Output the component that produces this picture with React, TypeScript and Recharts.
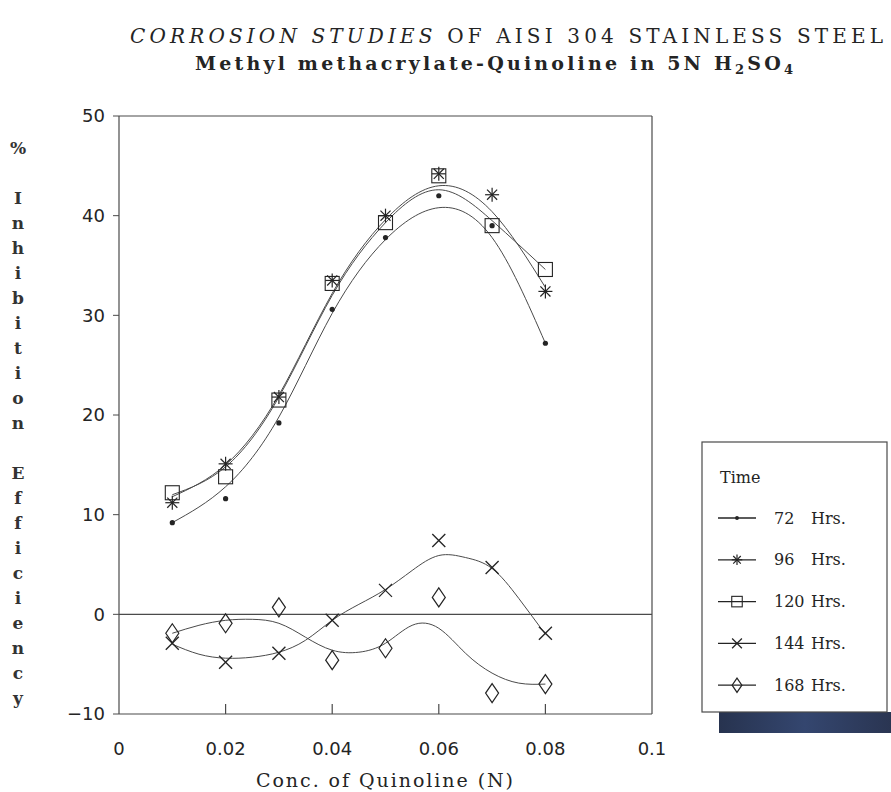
import React from 'react';
import {
  ComposedChart,
  Line,
  Scatter,
  XAxis,
  YAxis,
  ReferenceLine,
} from 'recharts';

// concentration of quinoline (N) at which the coupons were tested
const conc = [0.01, 0.02, 0.03, 0.04, 0.05, 0.06, 0.07, 0.08];

// measured % inhibition efficiency, one list per exposure time
const hrs72 = [9.2, 11.6, 19.2, 30.6, 37.8, 42.0, 39.0, 27.2];
const hrs96 = [11.2, 15.1, 21.8, 33.5, 40.0, 44.2, 42.1, 32.4];
const hrs120 = [12.2, 13.8, 21.5, 33.2, 39.3, 44.0, 39.0, 34.6];
const hrs144 = [-2.9, -4.8, -3.9, -0.6, 2.4, 7.4, 4.7, -1.9];
const hrs168 = [-1.9, -0.9, 0.7, -4.6, -3.4, 1.7, -7.9, -7.0];

// smoothed curves
const fit72 = [9.2, 12.8, 19.8, 30.2, 37.6, 40.8, 37.8, 27.2];
const fit96 = [11.8, 15.0, 22.0, 32.2, 39.6, 43.0, 40.4, 32.8];
const fit120 = [12.0, 14.8, 21.8, 32.0, 39.3, 42.6, 39.5, 34.6];

const fitConc = [
  0.01, 0.015, 0.02, 0.025, 0.03, 0.035, 0.04, 0.045,
  0.05, 0.055, 0.06, 0.065, 0.07, 0.075, 0.08,
];
const fit144 = [-3.0, -4.0, -4.4, -4.3, -3.8, -2.6, -0.6, 1.0, 2.5, 4.4, 5.9, 5.7, 4.6, 1.6, -2.0];
const fit168 = [-1.9, -1.1, -0.6, -0.5, -0.9, -2.3, -3.6, -3.8, -2.9, -1.1, -1.4, -3.9, -5.9, -6.9, -7.0];

const xTicks = [0, 0.02, 0.04, 0.06, 0.08, 0.1];
const yTicks = [-10, 0, 10, 20, 30, 40, 50];
const innerXTicks = [0.02, 0.04, 0.06, 0.08];

const legendNumbers = ['72', '96', '120', '144', '168'];
const markerKinds = ['dot', 'star', 'square', 'cross', 'diamond'];

const INK = '#242424';
const LINE = '#4a4a4a';

const toPoints = (xs: number[], ys: number[]) => xs.map((x, i) => ({ x, y: ys[i] }));

function Marker({ kind, cx, cy, s = 1 }: { kind: string; cx: number; cy: number; s?: number }) {
  if (cx == null || cy == null) return null;
  if (kind === 'dot') {
    return <circle cx={cx} cy={cy} r={2.6 * s} fill={INK} />;
  }
  if (kind === 'star') {
    const r = 7 * s;
    const d = r * 0.72;
    return (
      <g stroke={INK} strokeWidth={1.2}>
        <line x1={cx - r} y1={cy} x2={cx + r} y2={cy} />
        <line x1={cx} y1={cy - r} x2={cx} y2={cy + r} />
        <line x1={cx - d} y1={cy - d} x2={cx + d} y2={cy + d} />
        <line x1={cx - d} y1={cy + d} x2={cx + d} y2={cy - d} />
      </g>
    );
  }
  if (kind === 'square') {
    const h = 7 * s;
    return (
      <rect x={cx - h} y={cy - h} width={2 * h} height={2 * h} fill="none" stroke={INK} strokeWidth={1.1} />
    );
  }
  if (kind === 'cross') {
    const d = 6.5 * s;
    return (
      <g stroke={INK} strokeWidth={1.3}>
        <line x1={cx - d} y1={cy - d} x2={cx + d} y2={cy + d} />
        <line x1={cx - d} y1={cy + d} x2={cx + d} y2={cy - d} />
      </g>
    );
  }
  const w = 6.5 * s;
  const h = 9.5 * s;
  return (
    <polygon
      points={`${cx},${cy - h} ${cx + w},${cy} ${cx},${cy + h} ${cx - w},${cy}`}
      fill="none"
      stroke={INK}
      strokeWidth={1.2}
    />
  );
}

const markerShape = (kind: string) => (props: any) => <Marker kind={kind} cx={props.cx} cy={props.cy} />;

const formatX = (v: number) => (v === 0 ? '0' : v === 0.1 ? '0.1' : v.toFixed(2));
const formatY = (v: number) => (v < 0 ? `\u2212${Math.abs(v)}` : String(v));

// vertical y-axis title, one character per row
const yTitleRows = ['%', '', ...'Inhibition'.split(''), '', ...'Efficiency'.split('')];

export default function App() {
  const measured = [hrs72, hrs96, hrs120, hrs144, hrs168];

  return (
    <div style={{ position: 'absolute', left: 0, top: 0, width: 891, height: 792, background: '#fff' }}>
      <ComposedChart
        width={891}
        height={792}
        margin={{ top: 116, right: 239, bottom: 38, left: 69 }}
      >
        <XAxis
          type="number"
          dataKey="x"
          domain={[0, 0.1]}
          ticks={xTicks}
          tickFormatter={formatX}
          allowDataOverflow
          height={40}
          tickLine={false}
          tickSize={0}
          tickMargin={28}
          axisLine={{ stroke: LINE, strokeWidth: 1.2 }}
          tick={{ fill: INK, fontSize: 18, fontFamily: 'DejaVu Sans' }}
        />
        <YAxis
          type="number"
          dataKey="y"
          domain={[-10, 50]}
          ticks={yTicks}
          tickFormatter={formatY}
          allowDataOverflow
          width={50}
          tickSize={6}
          tickMargin={8}
          tickLine={{ stroke: LINE }}
          axisLine={{ stroke: LINE, strokeWidth: 1.2 }}
          tick={{ fill: INK, fontSize: 18, fontFamily: 'DejaVu Sans' }}
        />
        {/* frame top and right */}
        <ReferenceLine y={50} stroke={LINE} strokeWidth={1.2} />
        <ReferenceLine x={0.1} stroke={LINE} strokeWidth={1.2} />
        <ReferenceLine y={0} stroke={LINE} strokeWidth={1.2} />
        {innerXTicks.map((t) => (
          <ReferenceLine
            key={t}
            segment={[{ x: t, y: -10 }, { x: t, y: -9 }]}
            stroke={LINE}
            strokeWidth={1.2}
          />
        ))}

        <Line data={toPoints(conc, fit72)} dataKey="y" type="natural" stroke={LINE} strokeWidth={1} dot={false} isAnimationActive={false} />
        <Line data={toPoints(conc, fit96)} dataKey="y" type="natural" stroke={LINE} strokeWidth={1} dot={false} isAnimationActive={false} />
        <Line data={toPoints(conc, fit120)} dataKey="y" type="natural" stroke={LINE} strokeWidth={1} dot={false} isAnimationActive={false} />
        <Line data={toPoints(fitConc, fit144)} dataKey="y" type="natural" stroke={LINE} strokeWidth={1} dot={false} isAnimationActive={false} />
        <Line data={toPoints(fitConc, fit168)} dataKey="y" type="natural" stroke={LINE} strokeWidth={1} dot={false} isAnimationActive={false} />

        {measured.map((ys, i) => (
          <Scatter
            key={legendNumbers[i]}
            data={toPoints(conc, ys)}
            dataKey="y"
            shape={markerShape(markerKinds[i])}
            isAnimationActive={false}
          />
        ))}
      </ComposedChart>

      <svg
        width={891}
        height={792}
        style={{ position: 'absolute', left: 0, top: 0, pointerEvents: 'none' }}
      >
        {/* title */}
        <text x={130} y={43} fontFamily="DejaVu Serif" fontSize={20} fill={INK} textLength={753} lengthAdjust="spacing">
          <tspan fontStyle="italic">CORROSION STUDIES</tspan> OF AISI 304 STAINLESS STEEL
        </text>
        <text x={195} y={70} fontFamily="DejaVu Serif" fontSize={19} fontWeight="bold" fill={INK} textLength={598} lengthAdjust="spacing">
          Methyl methacrylate-Quinoline in 5N H<tspan dy={4} fontSize={13}>2</tspan>
          <tspan dy={-4}>SO</tspan>
          <tspan dy={4} fontSize={13}>4</tspan>
        </text>

        {/* y-axis title */}
        {yTitleRows.map((c, k) =>
          c ? (
            <text
              key={k}
              x={18}
              y={148 + 25 * k}
              textAnchor="middle"
              dominantBaseline="central"
              fontFamily="DejaVu Serif"
              fontSize={17}
              fontWeight="bold"
              fill="#333"
            >
              {c}
            </text>
          ) : null
        )}

        {/* x-axis title */}
        <text x={256} y={787} fontFamily="DejaVu Serif" fontSize={19} fill={INK} textLength={257} lengthAdjust="spacing">
          Conc. of Quinoline (N)
        </text>

        {/* legend */}
        <defs>
          <linearGradient id="legend-shadow" x1="0" y1="0" x2="1" y2="0">
            <stop offset="0%" stopColor="#27334f" />
            <stop offset="50%" stopColor="#34466f" />
            <stop offset="100%" stopColor="#2a3552" />
          </linearGradient>
        </defs>
        <rect x={719} y={712} width={172} height={21} fill="url(#legend-shadow)" />
        <rect x={702} y={442} width={185} height={270} fill="#fff" stroke={LINE} strokeWidth={1.2} />
        <text x={720} y={477} dominantBaseline="central" fontFamily="DejaVu Serif" fontSize={16} fill={INK}>
          Time
        </text>
        {legendNumbers.map((n, i) => {
          const cy = 518 + 41.8 * i;
          return (
            <g key={n}>
              <line x1={718} y1={cy} x2={756} y2={cy} stroke={INK} strokeWidth={1.3} />
              <Marker kind={markerKinds[i]} cx={737} cy={cy} s={0.75} />
              <text x={774} y={cy} dominantBaseline="central" fontFamily="DejaVu Serif" fontSize={16} fill={INK}>
                {n}
              </text>
              <text x={811} y={cy} dominantBaseline="central" fontFamily="DejaVu Serif" fontSize={16} fill={INK}>
                Hrs.
              </text>
            </g>
          );
        })}
      </svg>
    </div>
  );
}
